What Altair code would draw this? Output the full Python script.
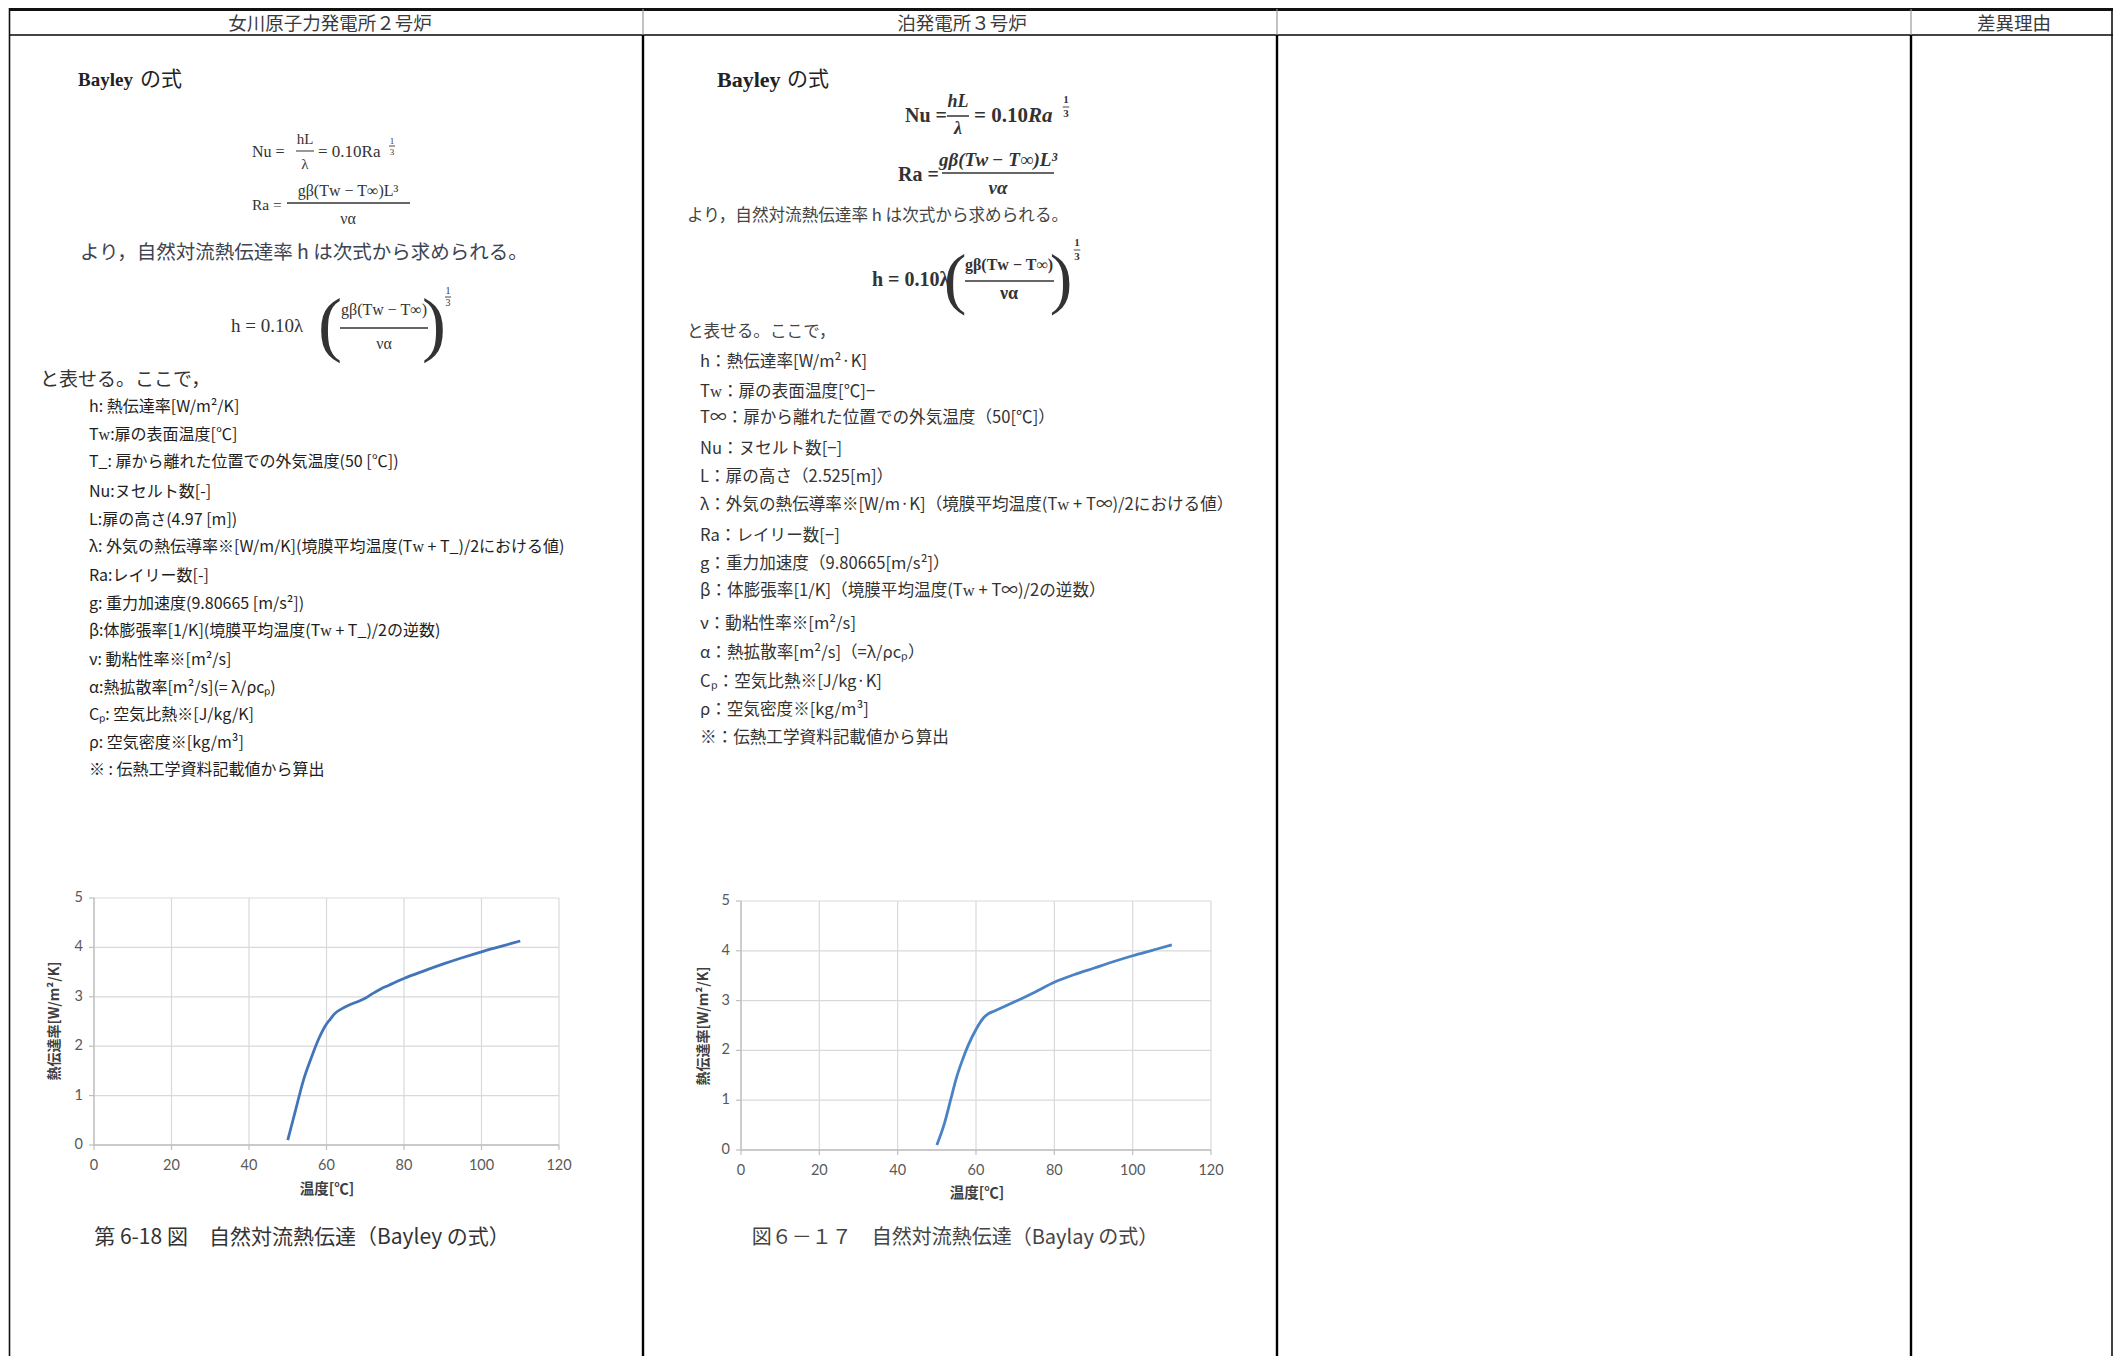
import altair as alt
import pandas as pd

# ---------------- content / data ----------------
header_labels = ["女川原子力発電所２号炉", "泊発電所３号炉", "差異理由"]
title_word = "Bayley"
title_suffix = "の式"
intro_text = "より，自然対流熱伝達率 h は次式から求められる。"
where_text = "と表せる。ここで，"

left_items = [
    "h: 熱伝達率[W/m²/K]",
    "Tᴡ:扉の表面温度[℃]",
    "T_: 扉から離れた位置での外気温度(50 [℃])",
    "Nu:ヌセルト数[-]",
    "L:扉の高さ(4.97 [m])",
    "λ: 外気の熱伝導率※[W/m/K](境膜平均温度(Tᴡ + T_)/2における値)",
    "Ra:レイリー数[-]",
    "g: 重力加速度(9.80665 [m/s²])",
    "β:体膨張率[1/K](境膜平均温度(Tᴡ + T_)/2の逆数)",
    "ν: 動粘性率※[m²/s]",
    "α:熱拡散率[m²/s](= λ/ρcₚ)",
    "Cₚ: 空気比熱※[J/kg/K]",
    "ρ: 空気密度※[kg/m³]",
    "※ : 伝熱工学資料記載値から算出",
]
mid_items = [
    "h：熱伝達率[W/m²·K]",
    "Tᴡ：扉の表面温度[℃]−",
    "T∞：扉から離れた位置での外気温度（50[℃]）",
    "Nu：ヌセルト数[−]",
    "L：扉の高さ（2.525[m]）",
    "λ：外気の熱伝導率※[W/m·K]（境膜平均温度(Tᴡ + T∞)/2における値）",
    "Ra：レイリー数[−]",
    "g：重力加速度（9.80665[m/s²]）",
    "β：体膨張率[1/K]（境膜平均温度(Tᴡ + T∞)/2の逆数）",
    "ν：動粘性率※[m²/s]",
    "α：熱拡散率[m²/s]（=λ/ρcₚ）",
    "Cₚ：空気比熱※[J/kg·K]",
    "ρ：空気密度※[kg/m³]",
    "※：伝熱工学資料記載値から算出",
]
caption_left = "第 6-18 図　自然対流熱伝達（Bayley の式）"
caption_mid = "図６－１７　自然対流熱伝達（Baylay の式）"
y_title = "熱伝達率[W/m²/K]"
x_title = "温度[℃]"

x_ticks = [0, 20, 40, 60, 80, 100, 120]
y_ticks = [0, 1, 2, 3, 4, 5]

temp_left = [50, 52, 54, 56, 58, 60, 61, 62, 64, 66, 68, 70, 72, 74, 76, 80, 85, 90, 95, 100, 105, 110]
htc_left = [0.1, 0.7, 1.3, 1.75, 2.15, 2.45, 2.55, 2.65, 2.76, 2.84, 2.9, 2.97, 3.07, 3.16, 3.23,
            3.37, 3.52, 3.66, 3.79, 3.91, 4.02, 4.13]
temp_mid = [50, 52, 53.5, 55, 56.5, 58, 60, 62, 63, 65, 70, 75, 80, 85, 90, 95, 100, 105, 110]
htc_mid = [0.1, 0.55, 1.0, 1.45, 1.8, 2.1, 2.42, 2.66, 2.73, 2.8, 2.98, 3.17, 3.37, 3.52,
           3.65, 3.78, 3.9, 4.01, 4.12]

# ---------------- helpers ----------------
OX = OY = 8
SERIF = "Liberation Serif, Noto Sans CJK JP"
CJK = "Noto Sans CJK JP"
TXT = "#333333"


def T(s, x, y, size, font=CJK, weight="normal", style="normal", align="left",
      color=TXT, angle=0):
    return alt.Chart(pd.DataFrame({"t": [s]})).mark_text(
        font=font, fontSize=size, fontWeight=weight, fontStyle=style,
        align=align, baseline="middle", color=color, angle=angle,
    ).encode(x=alt.value(x - OX), y=alt.value(y - OY), text="t:N")


def R(x1, y1, x2, y2, color="#000000", width=1.0):
    return alt.Chart(pd.DataFrame({"a": [0]})).mark_rule(
        color=color, strokeWidth=width
    ).encode(x=alt.value(x1 - OX), y=alt.value(y1 - OY),
             x2=alt.value(x2 - OX), y2=alt.value(y2 - OY))


def third(x, y, size, weight="normal"):
    return [
        T("1", x, y - size * 0.6, size, SERIF, weight, align="center"),
        R(x - size * 0.3, y, x + size * 0.3, y, TXT, 0.9),
        T("3", x, y + size * 0.6, size, SERIF, weight, align="center"),
    ]


def panel(temps, vals, px0, px1, py5, py0, color):
    xs = alt.Scale(domain=[0, 120], range=[px0 - OX, px1 - OX], nice=False, zero=False)
    ys = alt.Scale(domain=[0, 5], range=[py0 - OY, py5 - OY], nice=False, zero=False)
    vg = pd.DataFrame({"g": x_ticks, "lo": [0] * len(x_ticks), "hi": [5] * len(x_ticks)})
    hg = pd.DataFrame({"g": y_ticks, "lo": [0] * len(y_ticks), "hi": [120] * len(y_ticks)})

    def X(f):
        return alt.X(f, scale=xs, axis=None)

    def Y(f):
        return alt.Y(f, scale=ys, axis=None)

    vgrid = alt.Chart(vg).mark_rule(color="#d9d9d9", strokeWidth=1.2).encode(
        x=X("g:Q"), y=Y("lo:Q"), y2="hi:Q")
    hgrid = alt.Chart(hg).mark_rule(color="#d9d9d9", strokeWidth=1.2).encode(
        y=Y("g:Q"), x=X("lo:Q"), x2="hi:Q")
    yline = alt.Chart(vg).transform_filter("datum.g == 0").mark_rule(
        color="#bfbfbf", strokeWidth=1.3).encode(x=X("g:Q"), y=Y("lo:Q"), y2="hi:Q")
    xline = alt.Chart(hg).transform_filter("datum.g == 0").mark_rule(
        color="#bfbfbf", strokeWidth=1.3).encode(y=Y("g:Q"), x=X("lo:Q"), x2="hi:Q")
    yticks = alt.Chart(hg).mark_rule(color="#bfbfbf", strokeWidth=1.2, x2Offset=-5).encode(
        y=Y("g:Q"), x=X("lo:Q"), x2="lo:Q")
    xticks = alt.Chart(vg).mark_rule(color="#bfbfbf", strokeWidth=1.2, y2Offset=5).encode(
        x=X("g:Q"), y=Y("lo:Q"), y2="lo:Q")
    ylabels = alt.Chart(hg).mark_text(
        align="right", baseline="middle", dx=-11, font="Lato", fontSize=14.5,
        color="#595959").encode(x=X("lo:Q"), y=Y("g:Q"), text="g:Q")
    xlabels = alt.Chart(vg).mark_text(
        align="center", baseline="middle", dy=21, font="Lato", fontSize=14.5,
        color="#595959").encode(x=X("g:Q"), y=Y("lo:Q"), text="g:Q")
    line = alt.Chart(pd.DataFrame({"t": temps, "h": vals})).mark_line(
        color=color, strokeWidth=2.8, interpolate="monotone").encode(
        x=X("t:Q"), y=Y("h:Q"))
    return alt.layer(vgrid, hgrid, yline, xline, yticks, xticks, ylabels, xlabels, line)


# ---------------- page layout ----------------
COLS = [9.5, 643, 1277, 1911, 2112]
HEAD_Y = 35
layers = []

# table lines
layers.append(R(9, 9.5, 2113, 9.5, "#111111", 3))
layers.append(R(9, HEAD_Y, 2113, HEAD_Y, "#444444", 2))
layers.append(R(COLS[0], 8, COLS[0], 1364, "#111111", 1.6))
layers.append(R(COLS[4], 8, COLS[4], 1364, "#111111", 1.6))
for cx in COLS[1:4]:
    layers.append(R(cx, 9, cx, HEAD_Y, "#9a9a9a", 1.2))
    layers.append(R(cx, HEAD_Y, cx, 1364, "#000000", 2.4))

# header labels
for lab, cx in zip(header_labels, [330, 962, 2014]):
    layers.append(T(lab, cx, 24, 18.5, CJK, align="center", color="#3a3a3a"))

# ---- left column ----
layers.append(T(title_word, 78, 80, 19, SERIF, "bold", color="#222222"))
layers.append(T(title_suffix, 140, 80, 21, CJK, color="#222222"))
# Nu = hL/λ = 0.10 Ra^(1/3)
layers.append(T("Nu =", 252, 152, 16, SERIF))
layers.append(T("hL", 305, 139, 15, SERIF, align="center"))
layers.append(R(296, 151, 314, 151, TXT, 1))
layers.append(T("λ", 305, 164, 15, SERIF, align="center"))
layers.append(T("= 0.10Ra", 318, 152, 17, SERIF))
layers.append(T("1", 392, 141, 9, SERIF, align="center"))
layers.append(R(389, 146, 395, 146, TXT, 0.9))
layers.append(T("3", 392, 152, 9, SERIF, align="center"))
# Ra
layers.append(T("Ra =", 252, 205, 15.5, SERIF))
layers.append(T("gβ(Tᴡ − T∞)L³", 348, 191, 16, SERIF, align="center"))
layers.append(R(287, 203, 410, 203, TXT, 1.3))
layers.append(T("να", 348, 219, 16, SERIF, align="center"))
# intro
layers.append(T(intro_text, 80, 253, 19.5, CJK, color="#3d4452"))
# h formula
layers.append(T("h  =  0.10λ", 231, 326, 19, SERIF))
layers.append(T("(", 330, 326, 72, SERIF, align="center"))
layers.append(T("gβ(Tᴡ − T∞)", 384, 310, 16, SERIF, align="center"))
layers.append(R(340, 328, 428, 328, TXT, 1.3))
layers.append(T("να", 384, 344, 16, SERIF, align="center"))
layers.append(T(")", 434, 326, 72, SERIF, align="center"))
layers += third(448, 297, 10)
layers.append(T(where_text, 40, 380, 19, CJK))
LEFT_YS = [407, 435, 462, 492, 520, 547, 576, 604, 631, 660, 688, 715, 743, 770]
for item, yy in zip(left_items, LEFT_YS):
    layers.append(T(item, 89, yy, 16, CJK, color="#1e1e1e"))

# ---- middle column ----
layers.append(T(title_word, 717, 80, 22, SERIF, "bold", color="#222222"))
layers.append(T(title_suffix, 787, 80, 21, CJK, color="#222222"))
layers.append(T("Nu =", 905, 116, 20, SERIF, "bold"))
layers.append(T("hL", 958, 102, 18, SERIF, "bold", "italic", align="center"))
layers.append(R(947, 116, 969, 116, TXT, 1.5))
layers.append(T("λ", 958, 129, 18, SERIF, "bold", "italic", align="center"))
layers.append(T("= 0.10", 974, 116, 21, SERIF, "bold"))
layers.append(T("Ra", 1028, 116, 21, SERIF, "bold", "italic"))
layers += third(1066, 107, 11, "bold")
layers.append(T("Ra =", 898, 175, 20, SERIF, "bold"))
layers.append(T("gβ(Tᴡ − T∞)L³", 998, 160, 19, SERIF, "bold", "italic", align="center"))
layers.append(R(942, 173, 1054, 173, TXT, 1.5))
layers.append(T("να", 998, 188, 19, SERIF, "bold", "italic", align="center"))
layers.append(T(intro_text, 687, 216, 16.6, CJK, color="#444444"))
layers.append(T("h = 0.10λ", 872, 280, 20, SERIF, "bold"))
layers.append(T("(", 955, 281, 68, SERIF, align="center"))
layers.append(T("gβ(Tᴡ − T∞)", 1009, 265, 16, SERIF, "bold", align="center"))
layers.append(R(965, 281, 1054, 281, TXT, 1.5))
layers.append(T("να", 1009, 294, 18, SERIF, "bold", align="center"))
layers.append(T(")", 1061, 281, 68, SERIF, align="center"))
layers += third(1077, 250, 11, "bold")
layers.append(T(where_text, 687, 332, 16.6, CJK, color="#444444"))
MID_YS = [362, 392, 418, 449, 477, 505, 536, 564, 591, 624, 653, 682, 710, 738]
for item, yy in zip(mid_items, MID_YS):
    layers.append(T(item, 700, yy, 16.6, CJK, color="#333333"))

# ---- chart titles and captions ----
layers.append(T(y_title, 55, 1021, 14, CJK, "bold", align="center", color="#404040", angle=270))
layers.append(T(x_title, 327, 1190, 14.5, CJK, "bold", align="center", color="#404040"))
layers.append(T(caption_left, 302, 1238, 21, CJK, align="center", color="#333333"))
layers.append(T(y_title, 704, 1026, 14, CJK, "bold", align="center", color="#404040", angle=270))
layers.append(T(x_title, 977, 1194, 14.5, CJK, "bold", align="center", color="#404040"))
layers.append(T(caption_mid, 955, 1238, 20, CJK, align="center", color="#444444"))

page = alt.layer(*layers)
p_left = panel(temp_left, htc_left, 94, 559, 898, 1145, "#4274b8")
p_mid = panel(temp_mid, htc_mid, 741, 1211, 901, 1150, "#4a82c4")

chart = alt.layer(page, p_left, p_mid).resolve_scale(
    x="independent", y="independent"
).properties(
    width=2105, height=1348, padding=0,
    autosize=alt.AutoSizeParams(type="none"), background="white",
).configure_view(stroke=None)

chart.save("out.html", embed_options={"renderer": "svg", "actions": False})
